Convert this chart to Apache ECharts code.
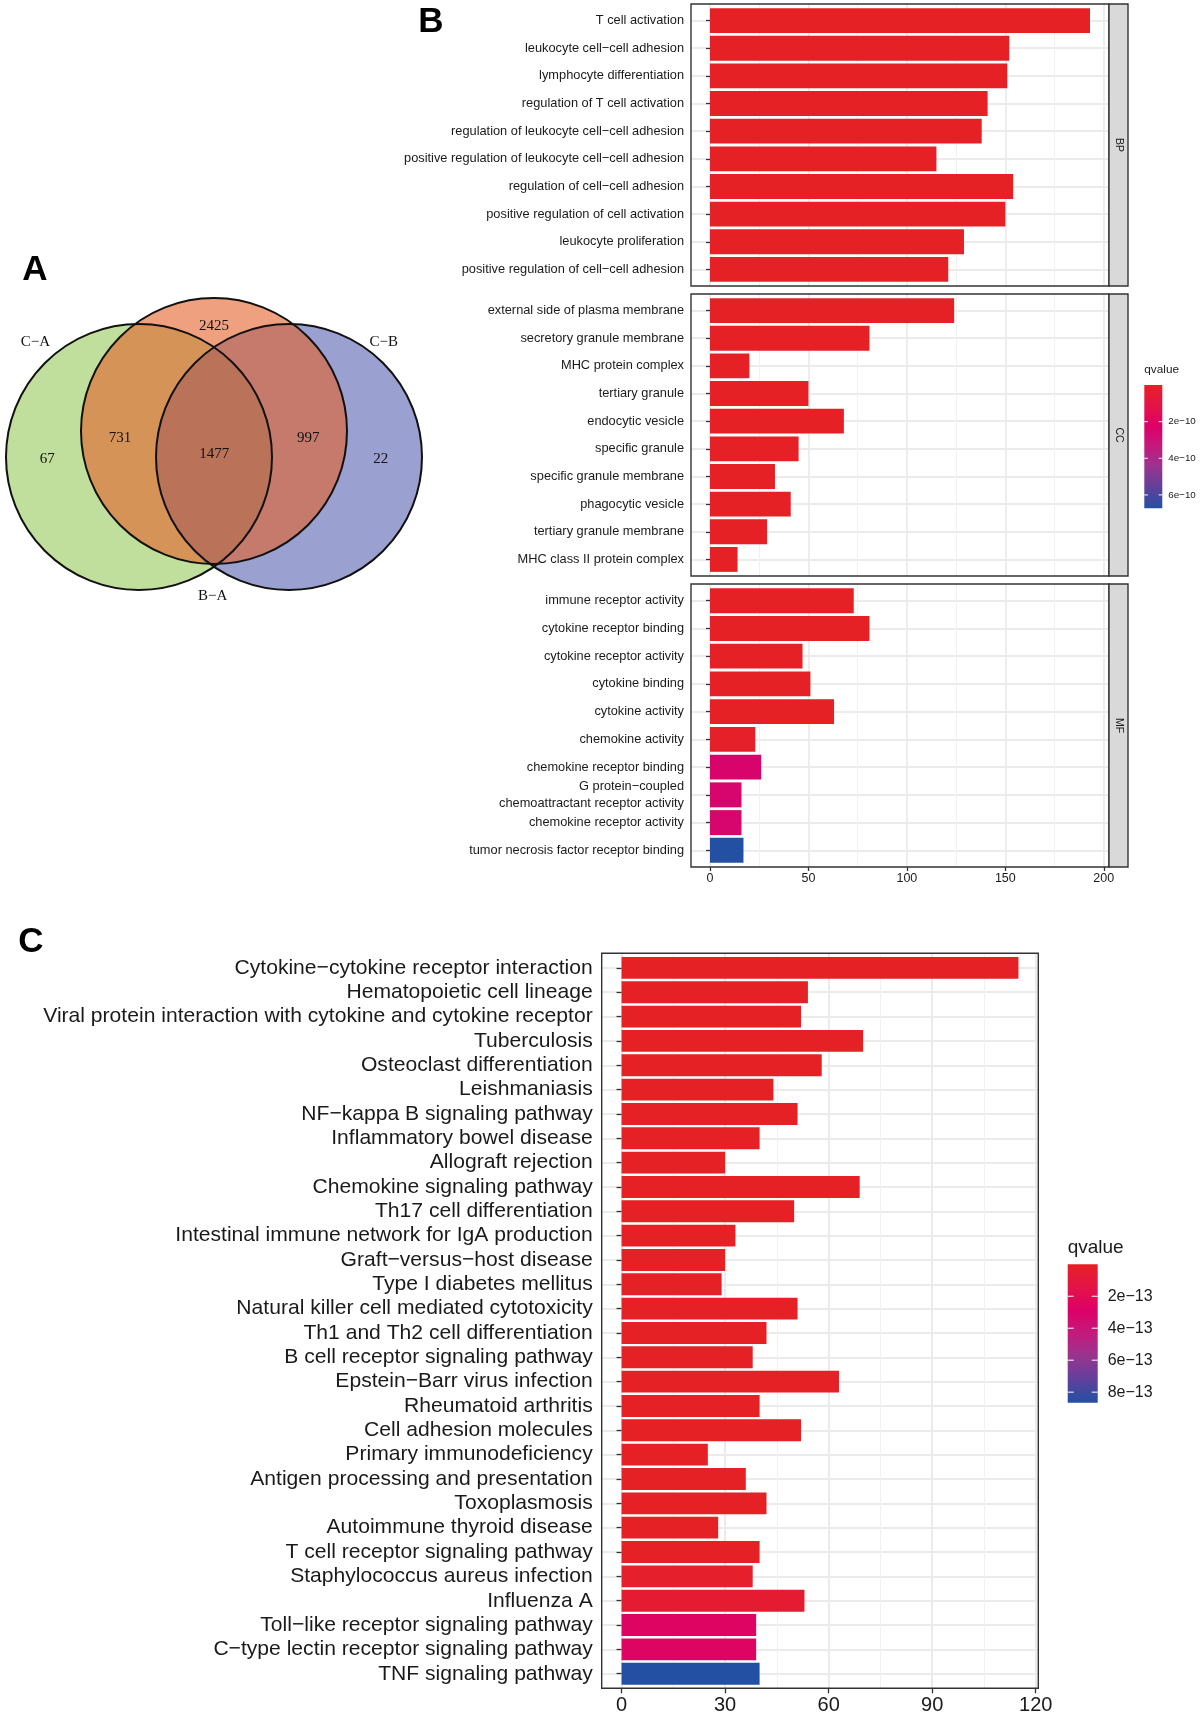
<!DOCTYPE html>
<html><head><meta charset="utf-8">
<script src="https://cdn.jsdelivr.net/npm/echarts@6/dist/echarts.min.js"></script>
<style>html,body{margin:0;padding:0;background:#fff}#chart{width:1200px;height:1717px}</style>
</head><body><div id="chart"></div>
<script>
// ---------------- DATA ----------------
const vennSetNames = ['C−A', 'C−B', 'B−A'];
const vennRegionLabels = ['67', '731', '2425', '1477', '997', '22'];

const bpTerms = ['T cell activation','leukocyte cell−cell adhesion','lymphocyte differentiation','regulation of T cell activation','regulation of leukocyte cell−cell adhesion','positive regulation of leukocyte cell−cell adhesion','regulation of cell−cell adhesion','positive regulation of cell activation','leukocyte proliferation','positive regulation of cell−cell adhesion'];
const bpCounts = [193, 152, 151, 141, 138, 115, 154, 150, 129, 121];
const bpQvalues = [1e-20, 1e-19, 1e-19, 1e-18, 1e-18, 1e-17, 1e-17, 1e-17, 1e-16, 1e-16];

const ccTerms = ['external side of plasma membrane','secretory granule membrane','MHC protein complex','tertiary granule','endocytic vesicle','specific granule','specific granule membrane','phagocytic vesicle','tertiary granule membrane','MHC class II protein complex'];
const ccCounts = [124, 81, 20, 50, 68, 45, 33, 41, 29, 14];
const ccQvalues = [1e-16, 1e-15, 1e-14, 1e-14, 1e-14, 1e-14, 1e-13, 1e-13, 1e-13, 1e-13];

const mfTerms = ['immune receptor activity','cytokine receptor binding','cytokine receptor activity','cytokine binding','cytokine activity','chemokine activity','chemokine receptor binding','G protein−coupled\nchemoattractant receptor activity','chemokine receptor activity','tumor necrosis factor receptor binding'];
const mfCounts = [73, 81, 47, 51, 63, 23, 26, 16, 16, 17];
const mfQvalues = [1e-13, 1e-13, 1e-12, 1e-12, 1e-12, 1e-11, 2.4e-10, 2.5e-10, 2.5e-10, 6.73e-10];

const keggTerms = ['Cytokine−cytokine receptor interaction','Hematopoietic cell lineage','Viral protein interaction with cytokine and cytokine receptor','Tuberculosis','Osteoclast differentiation','Leishmaniasis','NF−kappa B signaling pathway','Inflammatory bowel disease','Allograft rejection','Chemokine signaling pathway','Th17 cell differentiation','Intestinal immune network for IgA production','Graft−versus−host disease','Type I diabetes mellitus','Natural killer cell mediated cytotoxicity','Th1 and Th2 cell differentiation','B cell receptor signaling pathway','Epstein−Barr virus infection','Rheumatoid arthritis','Cell adhesion molecules','Primary immunodeficiency','Antigen processing and presentation','Toxoplasmosis','Autoimmune thyroid disease','T cell receptor signaling pathway','Staphylococcus aureus infection','Influenza A','Toll−like receptor signaling pathway','C−type lectin receptor signaling pathway','TNF signaling pathway'];
const keggCounts = [115, 54, 52, 70, 58, 44, 51, 40, 30, 69, 50, 33, 30, 29, 51, 42, 38, 63, 40, 52, 25, 36, 42, 28, 40, 38, 53, 39, 39, 40];
const keggQvalues = [1e-20, 1e-19, 1e-19, 1e-18, 1e-18, 1e-17, 1e-17, 1e-17, 1e-16, 1e-16, 1e-16, 1e-16, 1e-16, 1e-16, 1e-16, 1e-15, 1e-15, 1e-15, 1e-15, 1e-15, 1e-15, 1e-15, 1e-15, 1e-15, 2e-15, 2e-14, 5e-14, 2.6e-13, 2.6e-13, 8.66e-13];

const goTicks = [0, 50, 100, 150, 200];
const keggTicks = [0, 30, 60, 90, 120];
const goLegendTicks = [2e-10, 4e-10, 6e-10];
const goLegendLabels = ['2e−10', '4e−10', '6e−10'];
const keggLegendTicks = [2e-13, 4e-13, 6e-13, 8e-13];
const keggLegendLabels = ['2e−13', '4e−13', '6e−13', '8e−13'];
const gradientColors = ['#E52126', '#E41347', '#DC0068', '#C41A7D', '#97358F', '#60409C', '#2350A2'];

// ---------------- LAYOUT / STYLE ----------------
const SANS = "'Liberation Sans',Arial,sans-serif";
const SERIF = "'Liberation Serif','Times New Roman',serif";
const GRID_COL = '#EBEBEB';
const FRAME_COL = '#333333';

const grids = [], xAxes = [], yAxes = [], series = [], graphics = [];

function norm(arr, lo, hi) { return arr.map(v => (v - lo) / (hi - lo)); }

function addPanel(p) {
  const n = p.terms.length;
  const band = p.height / (n - 1 + 1.2);
  const ppu = p.width / (p.xMax - p.xMin);
  const tickLeft = p.left + (0 - p.xMin) * ppu;
  const gi = grids.length;
  grids.push({left: tickLeft, top: p.top, width: p.tickMax * ppu, height: p.height, show: false, containLabel: false, outerBoundsMode: 'none'});
  xAxes.push({
    gridIndex: gi, type: 'value', min: 0, max: p.tickMax, interval: p.tickInterval,
    axisLine: {show: false},
    axisTick: {show: p.showX, length: p.tickLen, lineStyle: {color: FRAME_COL, width: 1.3}},
    axisLabel: {show: p.showX, margin: p.xLabelMargin, fontSize: p.xFontSize, fontFamily: p.font, color: '#1a1a1a'},
    splitLine: {show: true, lineStyle: {color: GRID_COL, width: p.majorW}},
    minorTick: {show: false, splitNumber: 2},
    minorSplitLine: {show: true, lineStyle: {color: '#F1F1F1', width: 1}}
  });
  yAxes.push({gridIndex: gi, type: 'value', show: false, min: 0, max: 1});
  const bi = grids.length;
  grids.push({left: p.left, top: p.top + 0.1 * band, width: p.width, height: p.height - 0.2 * band, show: false, containLabel: false, outerBoundsMode: 'none'});
  xAxes.push({gridIndex: bi, type: 'value', min: p.xMin, max: p.xMax, show: false});
  yAxes.push({
    gridIndex: bi, type: 'category', inverse: true, data: p.terms,
    axisLine: {show: false},
    axisTick: {show: true, alignWithLabel: true, length: p.tickLen, lineStyle: {color: FRAME_COL, width: 1.3}},
    axisLabel: {interval: 0, margin: p.yLabelMargin, fontSize: p.yFontSize, fontFamily: p.font, color: '#1a1a1a', lineHeight: p.yLineHeight},
    splitLine: {show: true, alignWithLabel: true, lineStyle: {color: GRID_COL, width: p.majorW}}
  });
  series.push({
    type: 'bar', xAxisIndex: bi, yAxisIndex: bi, barWidth: '90%',
    data: p.counts.map((v, i) => [v, p.terms[i], p.qn[i]]),
    encode: {x: 0, y: 1}
  });
  graphics.push({type: 'rect', z: 20, shape: {x: p.left, y: p.top, width: p.width, height: p.height},
    style: {fill: 'none', stroke: FRAME_COL, lineWidth: 1.4}});
  if (p.strip) {
    graphics.push({type: 'rect', z: 20, shape: {x: p.left + p.width, y: p.top, width: 19, height: p.height},
      style: {fill: '#D9D9D9', stroke: FRAME_COL, lineWidth: 1.4}});
    graphics.push({type: 'text', z: 21, x: p.left + p.width + 9.5, y: p.top + p.height / 2, rotation: -Math.PI / 2,
      style: {text: p.strip, font: '10.5px ' + SANS, fill: '#1a1a1a', align: 'center', verticalAlign: 'middle', textAlign: 'center', textVerticalAlign: 'middle'}});
  }
}

// GO (panel B)
const goAllQ = bpQvalues.concat(ccQvalues, mfQvalues);
const goQmin = Math.min(...goAllQ), goQmax = Math.max(...goAllQ);
const goMax = Math.max(...bpCounts, ...ccCounts, ...mfCounts);
const goRange = [-0.05 * goMax, 1.05 * goMax];
const bCommon = {left: 691, width: 418, xMin: goRange[0], xMax: goRange[1], tickMax: 200, tickInterval: 50,
  tickLen: 4, xLabelMargin: 5, xFontSize: 12.5, yLabelMargin: 7, yFontSize: 12.8, yLineHeight: 17, font: SANS, majorW: 1.8};
addPanel(Object.assign({}, bCommon, {top: 4, height: 282, terms: bpTerms, counts: bpCounts, qn: norm(bpQvalues, goQmin, goQmax), showX: false, strip: 'BP'}));
addPanel(Object.assign({}, bCommon, {top: 294, height: 282, terms: ccTerms, counts: ccCounts, qn: norm(ccQvalues, goQmin, goQmax), showX: false, strip: 'CC'}));
addPanel(Object.assign({}, bCommon, {top: 584, height: 283, terms: mfTerms, counts: mfCounts, qn: norm(mfQvalues, goQmin, goQmax), showX: true, strip: 'MF'}));

// KEGG (panel C)
const kQmin = Math.min(...keggQvalues), kQmax = Math.max(...keggQvalues);
const kMax = Math.max(...keggCounts);
const kRange = [-0.05 * kMax, 1.05 * kMax];
addPanel({left: 601.7, width: 436.6, top: 953.3, height: 735, xMin: kRange[0], xMax: kRange[1], tickMax: 120, tickInterval: 30,
  tickLen: 5, xLabelMargin: 7, xFontSize: 20, yLabelMargin: 9, yFontSize: 21.1, yLineHeight: 22, font: SANS, majorW: 2,
  terms: keggTerms, counts: keggCounts, qn: norm(keggQvalues, kQmin, kQmax), showX: true});

// colour legends
function addLegend(l) {
  graphics.push({type: 'text', x: l.x, y: l.titleY, style: {text: 'qvalue', font: l.titleSize + 'px ' + l.font, fill: '#1a1a1a', align: 'left', verticalAlign: 'middle', textAlign: 'left', textVerticalAlign: 'middle'}});
  graphics.push({type: 'rect', shape: {x: l.x, y: l.y, width: l.w, height: l.h},
    style: {fill: {type: 'linear', x: 0, y: 0, x2: 0, y2: 1, colorStops: gradientColors.map((c, i) => ({offset: i / (gradientColors.length - 1), color: c}))}}});
  l.ticks.forEach((t, i) => {
    const yy = l.y + (t - l.qmin) / (l.qmax - l.qmin) * l.h;
    graphics.push({type: 'line', z: 3, shape: {x1: l.x, y1: yy, x2: l.x + l.w * 0.2, y2: yy}, style: {stroke: '#ffffff', lineWidth: 1}});
    graphics.push({type: 'line', z: 3, shape: {x1: l.x + l.w * 0.8, y1: yy, x2: l.x + l.w, y2: yy}, style: {stroke: '#ffffff', lineWidth: 1}});
    graphics.push({type: 'text', x: l.x + l.w + l.gap, y: yy, style: {text: l.labels[i], font: l.labelSize + 'px ' + l.font, fill: '#1a1a1a', align: 'left', verticalAlign: 'middle', textAlign: 'left', textVerticalAlign: 'middle'}});
  });
}
addLegend({x: 1144.3, y: 385, w: 18, h: 123.3, titleY: 370, titleSize: 11.8, labelSize: 9.8, gap: 6, font: SANS,
  qmin: goQmin, qmax: goQmax, ticks: goLegendTicks, labels: goLegendLabels});
addLegend({x: 1067.7, y: 1264.3, w: 30, h: 138.4, titleY: 1248, titleSize: 19, labelSize: 16, gap: 10, font: SANS,
  qmin: kQmin, qmax: kQmax, ticks: keggLegendTicks, labels: keggLegendLabels});

// panel letters
[['A', 35, 270], ['B', 431, 22], ['C', 31, 942]].forEach(([t, x, y]) => {
  graphics.push({type: 'text', x: x, y: y, style: {text: t, font: 'bold 35px ' + SANS, fill: '#000', align: 'center', verticalAlign: 'middle', textAlign: 'center', textVerticalAlign: 'middle'}});
});

// Venn diagram (panel A)
const vennCircles = [
  {cx: 139, cy: 457, r: 133, fill: '#C1DF9C'},
  {cx: 289, cy: 457, r: 133, fill: 'rgba(53,65,159,0.5)'},
  {cx: 214, cy: 431, r: 133, fill: 'rgba(228,97,42,0.6)'}
];
vennCircles.forEach((c, i) => graphics.push({type: 'circle', z: 1 + i, shape: {cx: c.cx, cy: c.cy, r: c.r}, style: {fill: c.fill}}));
vennCircles.forEach(c => graphics.push({type: 'circle', z: 5, shape: {cx: c.cx, cy: c.cy, r: c.r}, style: {fill: 'none', stroke: '#111', lineWidth: 2}}));
const vennSetPos = [[35.5, 342], [383.7, 342], [212.7, 596]];
vennSetNames.forEach((t, i) => graphics.push({type: 'text', z: 6, x: vennSetPos[i][0], y: vennSetPos[i][1],
  style: {text: t, font: '15px ' + SERIF, fill: '#111', align: 'center', verticalAlign: 'middle', textAlign: 'center', textVerticalAlign: 'middle'}}));
const vennRegionPos = [[47.3, 459.3], [120, 437.7], [214, 325.7], [214.3, 454.3], [308.3, 437.7], [380.7, 459.3]];
vennRegionLabels.forEach((t, i) => graphics.push({type: 'text', z: 6, x: vennRegionPos[i][0], y: vennRegionPos[i][1],
  style: {text: t, font: '15px ' + SERIF, fill: '#111', align: 'center', verticalAlign: 'middle', textAlign: 'center', textVerticalAlign: 'middle'}}));

const chart = echarts.init(document.getElementById('chart'), null, {renderer: 'canvas', width: 1200, height: 1717});
chart.setOption({
  animation: false,
  backgroundColor: '#ffffff',
  grid: grids,
  xAxis: xAxes,
  yAxis: yAxes,
  visualMap: [{type: 'continuous', show: false, min: 0, max: 1, dimension: 2, seriesIndex: series.map((s, i) => i), inRange: {color: gradientColors}}],
  series: series,
  graphic: {elements: graphics}
});
</script></body></html>
